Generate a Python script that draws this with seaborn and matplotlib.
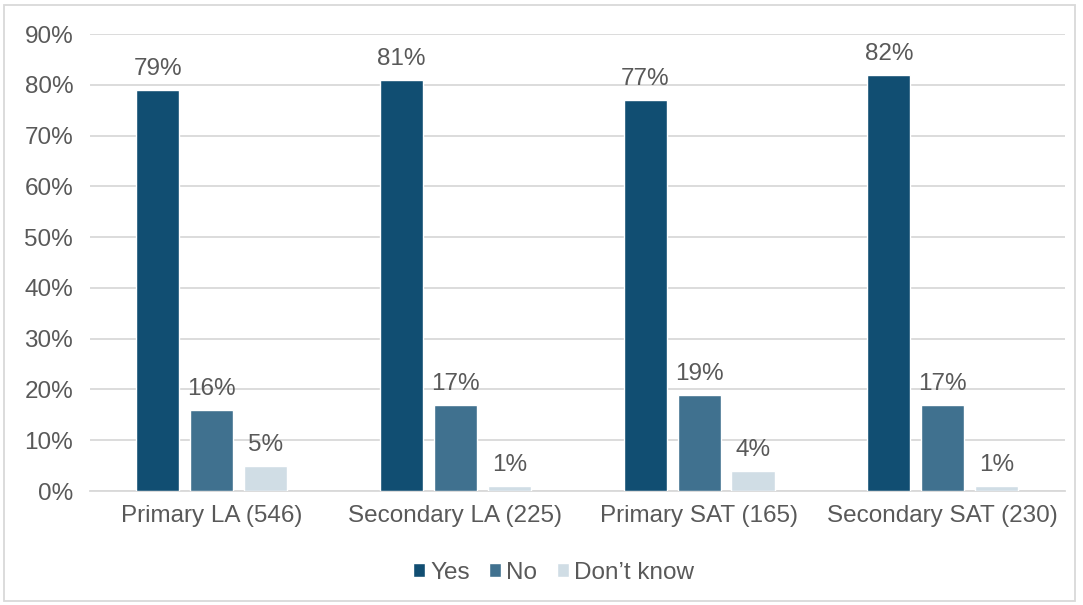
import matplotlib
matplotlib.use("Agg")
import matplotlib.pyplot as plt
from matplotlib.patches import Rectangle
import matplotlib.ticker as mticker
import seaborn as sns
import pandas as pd

groups = ["Primary LA (546)", "Secondary LA (225)", "Primary SAT (165)", "Secondary SAT (230)"]
responses = ["Yes", "No", "Don\u2019t know"]
yes_vals = [79, 81, 77, 82]
no_vals = [16, 17, 19, 17]
dk_vals = [5, 1, 4, 1]

palette = ["#114E72", "#40718F", "#D0DDE5"]
text_color = "#595959"
fs = 17.5

rows = []
for g, y, n, d in zip(groups, yes_vals, no_vals, dk_vals):
    for r, v in zip(responses, [y, n, d]):
        rows.append({"group": g, "response": r, "value": v / 100})
df = pd.DataFrame(rows)

sns.set_theme(style="white")
plt.rcParams["font.family"] = ["Liberation Sans", "DejaVu Sans"]

fig = plt.figure(figsize=(10.83, 6.05), dpi=100)
ax = fig.add_axes([0.083, 0.1884, 0.9, 0.7554])

sns.barplot(data=df, x="group", y="value", hue="response", order=groups,
            hue_order=responses, palette=palette, width=0.664, gap=0.2,
            saturation=1, ax=ax, zorder=3)

for container, resp in zip(ax.containers, responses):
    labels = [f"{v:.0%}" for v in df[df["response"] == resp]["value"]]
    ax.bar_label(container, labels=labels, padding=7, fontsize=fs, color=text_color)

ax.set_ylim(0, 0.9)
ax.set_xlim(-0.5, 3.5)
ax.yaxis.set_major_locator(mticker.MultipleLocator(0.1))
ax.yaxis.set_major_formatter(mticker.PercentFormatter(1.0, decimals=0))
ax.grid(axis="y", color="#D9D9D9", linewidth=1.3, zorder=0)
ax.set_axisbelow(True)
for s in ["top", "right", "left"]:
    ax.spines[s].set_visible(False)
ax.spines["bottom"].set_color("#D9D9D9")
ax.spines["bottom"].set_linewidth(1.3)
ax.tick_params(axis="both", length=0, labelsize=fs, colors=text_color)
ax.tick_params(axis="x", pad=10)
ax.tick_params(axis="y", pad=12)
ax.set_xlabel("")
ax.set_ylabel("")

handles, labels = ax.get_legend_handles_labels()
ax.legend_.remove()
fig.legend(handles, labels, loc="center", bbox_to_anchor=(0.511, 1 - 573 / 605),
           ncol=3, frameon=False, fontsize=fs, handlelength=0.5, handleheight=0.5,
           handletextpad=0.2, columnspacing=0.8, labelcolor=text_color)

fig.patches.append(Rectangle((4 / 1083, 4 / 605), 1071 / 1083, 596 / 605,
                             transform=fig.transFigure, fill=False,
                             edgecolor="#D9D9D9", linewidth=1.3))

fig.savefig("out.png", dpi=100)
